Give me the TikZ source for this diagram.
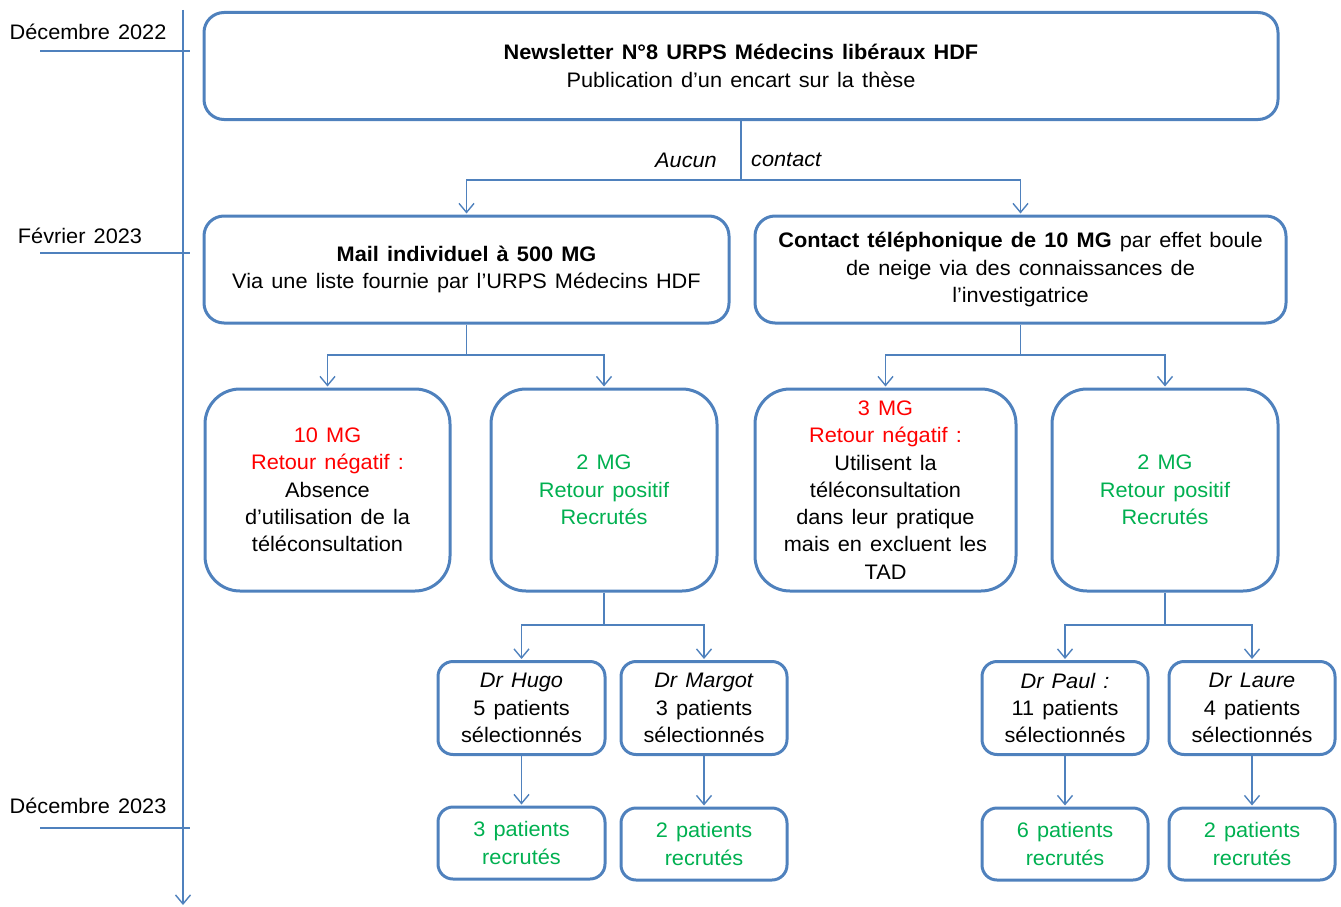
\documentclass[tikz,border=0pt]{standalone}
\usepackage{fontspec}
\setmainfont{Liberation Sans}[WordSpace=1.35,FakeStretch=1.035]
\usetikzlibrary{arrows.meta}
\definecolor{boxblue}{RGB}{79,129,189}
\definecolor{myred}{RGB}{255,0,0}
\definecolor{mygreen}{RGB}{0,176,80}
\begin{document}
\begin{tikzpicture}[x=1pt,y=-1pt,
 box/.style={draw=boxblue, line width=3pt, align=center, inner sep=0pt, font=\fontsize{21}{27.3}\selectfont},
 conn/.style={draw=boxblue, line width=1.4pt},
 arr/.style={conn, -{Straight Barb[length=9pt,width=15pt]}, shorten >=1pt},
 lbl/.style={font=\fontsize{21}{27}\selectfont, inner sep=0pt},
]
\useasboundingbox (0,0) rectangle (1341,907);

% timeline
\coordinate (tl0) at (183,10);
\coordinate (tl1) at (183,906);
\draw[arr] (tl0) -- (tl1);
\coordinate (t1a) at (40,51);  \coordinate (t1b) at (190,51);
\coordinate (t2a) at (40,253); \coordinate (t2b) at (190,253);
\coordinate (t3a) at (40,828); \coordinate (t3b) at (190,828);
\draw[conn] (t1a) -- (t1b);
\draw[conn] (t2a) -- (t2b);
\draw[conn] (t3a) -- (t3b);
\node[lbl] (d1) at (88,32) {Décembre 2022};
\node[lbl] (d2) at (80,236) {Février 2023};
\node[lbl] (d3) at (88,806) {Décembre 2023};

% boxes
\node[box, rounded corners=20pt, minimum width=1074pt, minimum height=107pt] (top) at (741,66)
 {\textbf{Newsletter N°8 URPS Médecins libéraux HDF}\\Publication d’un encart sur la thèse};
\node[box, rounded corners=20pt, minimum width=525pt, minimum height=107pt] (mail) at (466.5,269.5)
 {\textbf{Mail individuel à 500 MG}\\Via une liste fournie par l’URPS Médecins HDF};
\node[box, rounded corners=20pt, minimum width=531pt, minimum height=107pt] (tel) at (1020.5,269.5)
 {\textbf{Contact téléphonique de 10 MG} par effet boule\\de neige via des connaissances de\\l’investigatrice};

\node[box, rounded corners=35pt, minimum width=245pt, minimum height=202pt] (A) at (327.5,490)
 {\textcolor{myred}{10 MG}\\\textcolor{myred}{Retour négatif :}\\Absence\\d’utilisation de la\\téléconsultation};
\node[box, rounded corners=35pt, minimum width=226pt, minimum height=202pt] (B) at (604,490)
 {\textcolor{mygreen}{2 MG}\\\textcolor{mygreen}{Retour positif}\\\textcolor{mygreen}{Recrutés}};
\node[box, rounded corners=35pt, minimum width=261pt, minimum height=202pt] (C) at (885.5,490)
 {\textcolor{myred}{3 MG}\\\textcolor{myred}{Retour négatif :}\\Utilisent la\\téléconsultation\\dans leur pratique\\mais en excluent les\\TAD};
\node[box, rounded corners=35pt, minimum width=226pt, minimum height=202pt] (D) at (1165,490)
 {\textcolor{mygreen}{2 MG}\\\textcolor{mygreen}{Retour positif}\\\textcolor{mygreen}{Recrutés}};

\node[box, rounded corners=15pt, minimum width=167pt, minimum height=93pt] (hugo) at (521.5,708)
 {\textit{Dr Hugo}\\5 patients\\sélectionnés};
\node[box, rounded corners=15pt, minimum width=166pt, minimum height=93pt] (margot) at (704,708)
 {\textit{Dr Margot}\\3 patients\\sélectionnés};
\node[box, rounded corners=15pt, minimum width=166pt, minimum height=93pt] (paul) at (1065,708)
 {\textit{Dr Paul :}\\11 patients\\sélectionnés};
\node[box, rounded corners=15pt, minimum width=166pt, minimum height=93pt] (laure) at (1252,708)
 {\textit{Dr Laure}\\4 patients\\sélectionnés};

\node[box, rounded corners=15pt, minimum width=167pt, minimum height=72pt] (rhugo) at (521.5,843)
 {\textcolor{mygreen}{3 patients}\\\textcolor{mygreen}{recrutés}};
\node[box, rounded corners=15pt, minimum width=166pt, minimum height=72pt] (rmargot) at (704,844)
 {\textcolor{mygreen}{2 patients}\\\textcolor{mygreen}{recrutés}};
\node[box, rounded corners=15pt, minimum width=166pt, minimum height=72pt] (rpaul) at (1065,844)
 {\textcolor{mygreen}{6 patients}\\\textcolor{mygreen}{recrutés}};
\node[box, rounded corners=15pt, minimum width=166pt, minimum height=72pt] (rlaure) at (1252,844)
 {\textcolor{mygreen}{2 patients}\\\textcolor{mygreen}{recrutés}};

% connectors
\coordinate (j1) at (741,180);
\draw[conn] (top.south) -- (j1);
\draw[arr] (j1) -| (mail.north);
\draw[arr] (j1) -| (tel.north);
\node[lbl, anchor=east, font=\fontsize{21}{27}\selectfont\itshape] (aucun) at (717,160) {Aucun};
\node[lbl, anchor=west, font=\fontsize{21}{27}\selectfont\itshape] (contact) at (751,160) {contact};

\coordinate (j2) at (466.5,355);
\draw[conn] (mail.south) -- (j2);
\draw[arr] (j2) -| (A.north);
\draw[arr] (j2) -| (B.north);

\coordinate (j3) at (1020.5,355);
\draw[conn] (tel.south) -- (j3);
\draw[arr] (j3) -| (C.north);
\draw[arr] (j3) -| (D.north);

\coordinate (j4) at (604,625);
\draw[conn] (B.south) -- (j4);
\draw[arr] (j4) -| (hugo.north);
\draw[arr] (j4) -| (margot.north);

\coordinate (j5) at (1165,625);
\draw[conn] (D.south) -- (j5);
\draw[arr] (j5) -| (paul.north);
\draw[arr] (j5) -| (laure.north);

\draw[arr] (hugo) -- (rhugo);
\draw[arr] (margot) -- (rmargot);
\draw[arr] (paul) -- (rpaul);
\draw[arr] (laure) -- (rlaure);
\end{tikzpicture}
\end{document}
